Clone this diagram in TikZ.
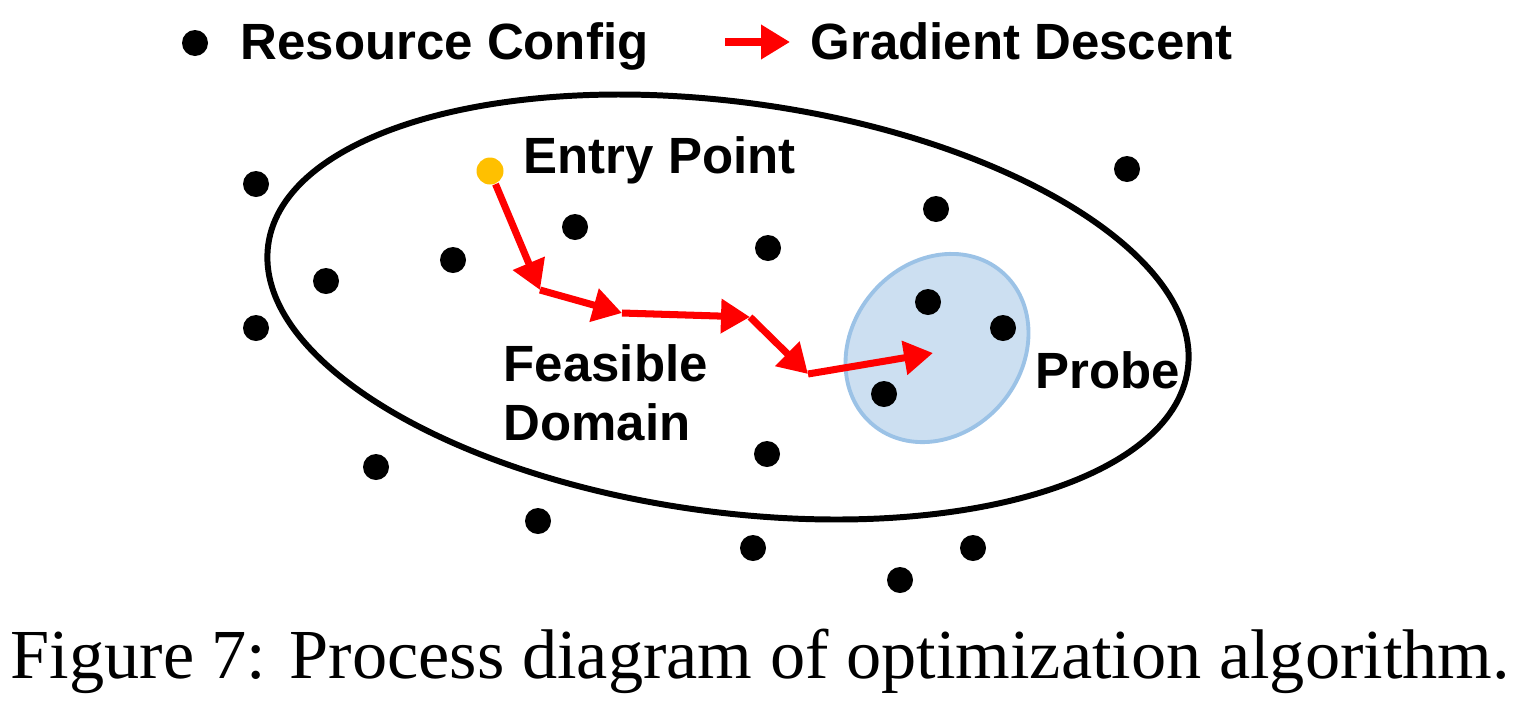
\documentclass[tikz,border=0pt]{standalone}
\usepackage{fontspec}
\setmainfont{Liberation Serif}
\setsansfont{Liberation Sans}
\usetikzlibrary{arrows.meta}
\definecolor{gdred}{RGB}{255,0,0}
\definecolor{entryyellow}{RGB}{255,192,0}
\definecolor{probefill}{RGB}{204,223,241}
\definecolor{probeline}{RGB}{155,194,230}
\tikzset{
    conf/.style={circle, fill=black, minimum size=2.6mm, inner sep=0pt},
    entry/.style={circle, fill=entryyellow, minimum size=2.7mm, inner sep=0pt},
    descent/.style={draw=gdred, line width=2pt, -{Triangle[length=2.9mm, width=3.3mm]}},
    txt/.style={font=\sffamily\bfseries\fontsize{14.5}{16}\selectfont, inner sep=0pt, anchor=base west}
}

\begin{document}
\begin{tikzpicture}
  \useasboundingbox (0,0) rectangle (15.16,-7.04);

  % legend
  \node [conf] (legdot) at (1.95,-0.43) {};
  \node [txt] (legconf) at (2.40,-0.59) {Resource Config};
  \coordinate (legfrom) at (7.25,-0.42);
  \coordinate (legto) at (7.90,-0.42);
  \draw [descent] (legfrom) -- (legto);
  \node [txt] (leggrad) at (8.10,-0.59) {Gradient Descent};

  % feasible domain and probe region
  \draw [line width=1.7pt, rotate around={-7.7:(7.28,-3.07)}] (7.28,-3.07) ellipse (4.64 and 2.05);
  \draw [draw=probeline, fill=probefill, line width=1.1pt, rotate around={50:(9.37,-3.48)}]
    (9.37,-3.48) ellipse (1.0 and 0.85);

  % resource configs
  \node [conf] (d1) at (2.56,-1.84) {};
  \node [conf] (d2) at (3.26,-2.81) {};
  \node [conf] (d3) at (2.56,-3.28) {};
  \node [conf] (d4) at (4.53,-2.60) {};
  \node [conf] (d5) at (5.75,-2.27) {};
  \node [conf] (d6) at (7.68,-2.48) {};
  \node [conf] (d7) at (9.36,-2.09) {};
  \node [conf] (d8) at (11.27,-1.69) {};
  \node [conf] (d9) at (9.28,-3.02) {};
  \node [conf] (d10) at (10.03,-3.28) {};
  \node [conf] (d11) at (8.84,-3.94) {};
  \node [conf] (d12) at (7.67,-4.54) {};
  \node [conf] (d13) at (3.76,-4.67) {};
  \node [conf] (d14) at (5.38,-5.21) {};
  \node [conf] (d15) at (7.53,-5.48) {};
  \node [conf] (d16) at (9.73,-5.48) {};
  \node [conf] (d17) at (9.00,-5.80) {};

  % descent path
  \node [entry] (entry) at (4.90,-1.71) {};
  \coordinate (c1) at (5.40,-2.90);
  \coordinate (c2) at (6.22,-3.13);
  \coordinate (c3) at (7.50,-3.17);
  \coordinate (c4) at (8.08,-3.74);
  \coordinate (c5) at (9.33,-3.53);
  \draw [descent] (entry) -- (c1);
  \draw [descent] (c1) -- (c2);
  \draw [descent] (c2) -- (c3);
  \draw [descent] (c3) -- (c4);
  \draw [descent] (c4) -- (c5);

  % labels
  \node [txt] (entrylbl) at (5.23,-1.73) {Entry Point};
  \node [txt] (feas) at (5.03,-3.81) {Feasible};
  \node [txt] (dom) at (5.03,-4.40) {Domain};
  \node [txt] (probe) at (10.35,-3.88) {Probe};

  % caption
  \node [font=\fontsize{20}{24}\selectfont, inner sep=0pt, anchor=base west] (caption) at (0.10,-6.78)
    {Figure 7: Process diagram of optimization algorithm.};
\end{tikzpicture}
\end{document}
